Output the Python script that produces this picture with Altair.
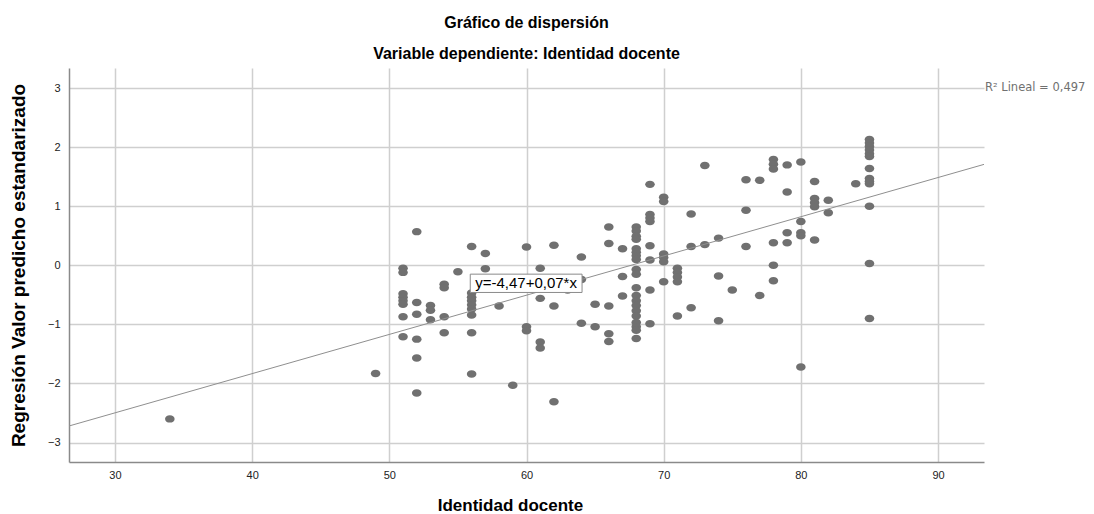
import altair as alt
import pandas as pd

# ---- data ----
x_vals = (
    [34, 49]
    + [51] * 8 + [52] * 6 + [53] * 3 + [54] * 4 + [55] + [56] * 9 + [57] * 2
    + [58] + [59] + [60] * 3 + [61] * 4 + [62] * 3 + [63] + [64] * 3 + [65] * 2
    + [66] * 5 + [67] * 3 + [68] * 20 + [69] * 8 + [70] * 6 + [71] * 5
    + [72] * 3 + [73] * 2 + [74] * 3 + [75] + [76] * 3 + [77] * 2 + [78] * 6
    + [79] * 4 + [80] * 5 + [81] * 5 + [82] * 2 + [84] + [85] * 13
)
y_vals = (
    [-2.60, -1.83]
    + [-0.05, -0.12, -0.48, -0.54, -0.60, -0.66, -0.87, -1.21]          # 51
    + [0.57, -0.63, -0.83, -1.25, -1.57, -2.16]                          # 52
    + [-0.68, -0.76, -0.92]                                              # 53
    + [-0.32, -0.38, -0.87, -1.14]                                       # 54
    + [-0.11]                                                            # 55
    + [0.32, -0.47, -0.54, -0.60, -0.67, -0.74, -0.84, -1.14, -1.84]     # 56
    + [0.20, -0.06]                                                      # 57
    + [-0.69]                                                            # 58
    + [-2.03]                                                            # 59
    + [0.31, -1.04, -1.11]                                               # 60
    + [-0.05, -0.56, -1.30, -1.40]                                       # 61
    + [0.34, -0.69, -2.31]                                               # 62
    + [-0.42]                                                            # 63
    + [0.14, -0.24, -0.98]                                               # 64
    + [-0.66, -1.04]                                                     # 65
    + [0.65, 0.37, -0.69, -1.16, -1.29]                                  # 66
    + [0.28, -0.19, -0.52]                                               # 67
    + [0.65, 0.58, 0.49, 0.44, 0.28, 0.22, 0.16, 0.10, -0.07, -0.15,
       -0.38, -0.51, -0.60, -0.68, -0.77, -0.86, -0.97, -1.04, -1.10, -1.24]  # 68
    + [1.37, 0.86, 0.80, 0.74, 0.33, 0.09, -0.42, -0.99]                 # 69
    + [1.15, 1.08, 0.19, 0.13, 0.06, -0.28]                              # 70
    + [-0.05, -0.12, -0.20, -0.28, -0.86]                                # 71
    + [0.87, 0.32, -0.72]                                                # 72
    + [1.69, 0.35]                                                       # 73
    + [0.46, -0.18, -0.94]                                               # 74
    + [-0.42]                                                            # 75
    + [1.45, 0.93, 0.32]                                                 # 76
    + [1.44, -0.51]                                                      # 77
    + [1.79, 1.71, 1.63, 0.38, 0.00, -0.26]                              # 78
    + [1.70, 1.24, 0.55, 0.38]                                           # 79
    + [1.75, 0.74, 0.55, 0.50, -1.72]                                    # 80
    + [1.42, 1.13, 1.06, 0.99, 0.43]                                     # 81
    + [1.10, 0.89]                                                       # 82
    + [1.38]                                                             # 84
    + [2.13, 2.07, 2.01, 1.95, 1.89, 1.84, 1.64, 1.47, 1.42, 1.38, 1.00,
       0.03, -0.90]                                                      # 85
)

x_ticks = [30, 40, 50, 60, 70, 80, 90]
y_ticks = [-3, -2, -1, 0, 1, 2, 3]
x_domain = [26.65, 93.35]
y_domain = [-3.33, 3.34]

fit_intercept = -4.49
fit_slope = 0.0664
fit_label = "y=-4,47+0,07*x"
r2_label = "R\u00b2 Lineal = 0,497"

df = pd.DataFrame({"x": x_vals, "y": y_vals})
line_df = pd.DataFrame({
    "x": x_domain,
    "y": [fit_intercept + fit_slope * v for v in x_domain],
})
box_df = pd.DataFrame({"x1": [55.9], "x2": [64.05], "y1": [-0.15], "y2": [-0.46],
                       "xc": [59.97], "yc": [-0.305], "t": [fit_label]})

FONT = "Liberation Sans"
TICKFONT = "Liberation Sans Narrow, Liberation Sans"

xs = alt.Scale(domain=x_domain, nice=False, zero=False)
ys = alt.Scale(domain=y_domain, nice=False, zero=False)

x_axis = alt.Axis(
    values=x_ticks, format="d", grid=True, gridColor="#cfcfcf", gridWidth=1.5,
    ticks=False, domainColor="#8a8a8a", domainWidth=1.5,
    labelFont=TICKFONT, labelFontSize=11, labelColor="#222222", labelPadding=7,
    title="Identidad docente", titleFont=FONT, titleFontSize=17,
    titleFontWeight="bold", titleColor="#000000",
    titleX=441, titleY=43, titleBaseline="middle",
)
y_axis = alt.Axis(
    values=y_ticks, format="d", grid=True, gridColor="#cfcfcf", gridWidth=1.5,
    ticks=False, domainColor="#8a8a8a", domainWidth=1.5,
    labelFont=TICKFONT, labelFontSize=11, labelColor="#222222", labelPadding=9,
    title="Regresión Valor predicho estandarizado", titleFont=FONT,
    titleFontSize=19, titleFontWeight="bold", titleColor="#000000",
    titleX=-51, titleY=197, titleBaseline="middle", titleAngle=270,
)

ellipse = "M-1,0A1,0.78,0,1,1,1,0A1,0.78,0,1,1,-1,0Z"

points = alt.Chart(df).mark_point(
    shape=ellipse, filled=True, size=92, color="#707070", opacity=1
).encode(
    x=alt.X("x:Q", scale=xs, axis=x_axis),
    y=alt.Y("y:Q", scale=ys, axis=y_axis),
)

fit = alt.Chart(line_df).mark_line(color="#8f8f8f", strokeWidth=1).encode(
    x=alt.X("x:Q", scale=xs), y=alt.Y("y:Q", scale=ys)
)

box = alt.Chart(box_df).mark_rect(fill="white", stroke="#8a8a8a", strokeWidth=1).encode(
    x=alt.X("x1:Q", scale=xs), x2="x2:Q",
    y=alt.Y("y1:Q", scale=ys), y2="y2:Q",
)
box_text = alt.Chart(box_df).mark_text(
    font=FONT, fontSize=15, color="#000000", align="center", baseline="middle"
).encode(
    x=alt.X("xc:Q", scale=xs), y=alt.Y("yc:Q", scale=ys), text="t:N"
)

r2 = alt.Chart(pd.DataFrame({"t": [r2_label]})).mark_text(
    font="DejaVu Sans", fontSize=11.5, color="#707070", align="left", baseline="middle"
).encode(x=alt.value(916), y=alt.value(20), text="t:N")

chart = alt.layer(points, fit, box, box_text, r2).properties(
    width=915, height=394,
    background="white",
    title=alt.TitleParams(
        text="Gráfico de dispersión",
        subtitle="Variable dependiente: Identidad docente",
        font=FONT, fontSize=16, fontWeight="bold", color="#000000",
        subtitleFont=FONT, subtitleFontSize=16, subtitleFontWeight="bold",
        subtitleColor="#000000", subtitlePadding=15,
        anchor="middle", offset=6,
    ),
    autosize=alt.AutoSizeParams(type="none"),
    padding={"left": 69, "top": 68, "right": 110, "bottom": 52},
).configure_view(stroke=None)

chart.save("out.html", embed_options={"renderer": "svg", "actions": False})
